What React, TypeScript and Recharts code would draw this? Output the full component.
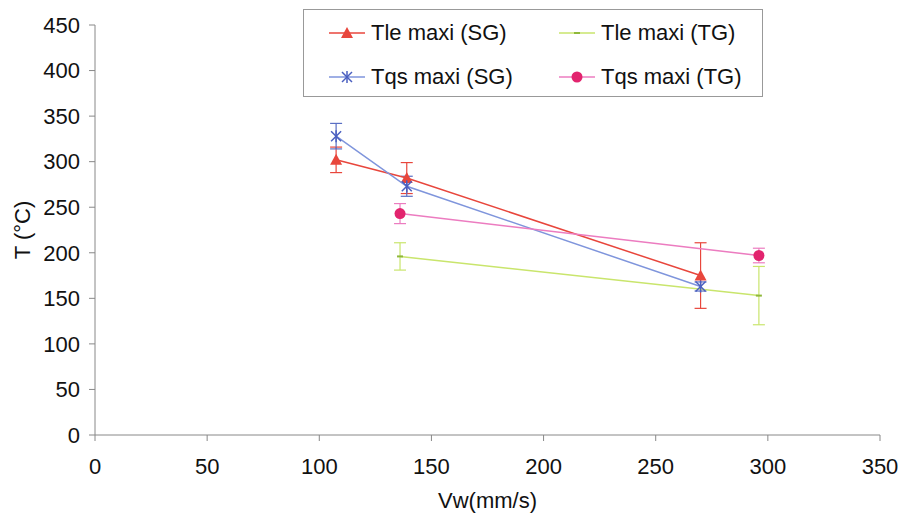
import React from "react";
import { ScatterChart, Scatter, XAxis, YAxis, ErrorBar } from "recharts";

// values
const vwSG = [107.5, 139, 270];
const tleSG = [302, 282, 175];
const tleSGErr = [14, 17, 36];
const tqsSG = [328, 273, 163];
const tqsSGErr = [14, 11, 5];

const vwTG = [136, 296];
const tleTG = [196, 153];
const tleTGErr = [15, 32];
const tqsTG = [243, 197];
const tqsTGErr = [11, 8];

const xTicks = [0, 50, 100, 150, 200, 250, 300, 350];
const yTicks = [0, 50, 100, 150, 200, 250, 300, 350, 400, 450];

const rows = (xs: number[], ys: number[], es: number[]) => xs.map((x, i) => ({ x, y: ys[i], err: es[i] }));

const RED = "#e8463c";
const GREEN = "#c9e56c";
const BLUE = "#7f95dc";
const PINK = "#ec7cc0";
const PINK_DOT = "#e2246e";
const FONT = "'Liberation Sans', Arial, sans-serif";

const Triangle = (p: any) => (
  <polygon points={`${p.cx},${p.cy - 6} ${p.cx + 6},${p.cy + 5} ${p.cx - 6},${p.cy + 5}`} fill={RED} />
);
const Star = (p: any) => (
  <g stroke="#4a5fc0" strokeWidth={1.5}>
    <line x1={p.cx - 5} y1={p.cy - 5} x2={p.cx + 5} y2={p.cy + 5} />
    <line x1={p.cx - 5} y1={p.cy + 5} x2={p.cx + 5} y2={p.cy - 5} />
    <line x1={p.cx} y1={p.cy - 6} x2={p.cx} y2={p.cy + 6} />
  </g>
);
const Dash = (p: any) => <line x1={p.cx - 3} y1={p.cy} x2={p.cx + 3} y2={p.cy} stroke="#8fb83a" strokeWidth={2} />;
const Dot = (p: any) => <circle cx={p.cx} cy={p.cy} r={5.5} fill={PINK_DOT} />;

const legendItems = [
  { name: "Tle maxi (SG)", color: RED, Shape: Triangle },
  { name: "Tle maxi (TG)", color: GREEN, Shape: Dash },
  { name: "Tqs maxi (SG)", color: BLUE, Shape: Star },
  { name: "Tqs maxi (TG)", color: PINK, Shape: Dot },
];

const LegendBox = () => (
  <div
    style={{
      position: "absolute",
      left: 303,
      top: 9,
      width: 460,
      height: 88,
      border: "1.5px solid #999",
      boxSizing: "border-box",
      background: "#fff",
      fontFamily: FONT,
      fontSize: 22,
      color: "#111",
    }}
  >
    {legendItems.map((it, i) => (
      <div
        key={it.name}
        style={{
          position: "absolute",
          left: i % 2 === 0 ? 24 : 254,
          top: (i < 2 ? 23 : 67) - 14,
          height: 28,
          display: "flex",
          alignItems: "center",
          whiteSpace: "nowrap",
        }}
      >
        <svg width={38} height={16} style={{ marginRight: 5 }}>
          <line x1={1} y1={8} x2={37} y2={8} stroke={it.color} strokeWidth={1.5} />
          <it.Shape cx={19} cy={8} />
        </svg>
        <span>{it.name}</span>
      </div>
    ))}
  </div>
);

export default function App() {
  return (
    <div style={{ position: "absolute", left: 0, top: 0, width: 900, height: 515, background: "#fff" }}>
      <ScatterChart width={900} height={515} margin={{ top: 25, right: 20, left: 0, bottom: 0 }}>
        <XAxis
          type="number"
          dataKey="x"
          domain={[0, 350]}
          ticks={xTicks}
          height={80}
          axisLine={{ stroke: "#888" }}
          tickLine={{ stroke: "#888" }}
          tickSize={6}
          tickMargin={17}
          tick={{ fill: "#111", fontSize: 22, fontFamily: FONT }}
          label={{
            value: "Vw(mm/s)",
            position: "insideBottom",
            offset: 7,
            fill: "#111",
            fontSize: 22,
            fontFamily: FONT,
          }}
        />
        <YAxis
          type="number"
          dataKey="y"
          domain={[0, 450]}
          ticks={yTicks}
          width={95}
          axisLine={{ stroke: "#888" }}
          tickLine={{ stroke: "#888" }}
          tickSize={6}
          tickMargin={9}
          tick={{ fill: "#111", fontSize: 22, fontFamily: FONT }}
          label={{
            value: "T (°C)",
            angle: -90,
            position: "insideLeft",
            offset: 22,
            fill: "#111",
            fontSize: 22,
            fontFamily: FONT,
            style: { textAnchor: "middle" },
          }}
        />
        <Scatter
          name="Tle maxi (SG)"
          data={rows(vwSG, tleSG, tleSGErr)}
          line={{ stroke: RED, strokeWidth: 1.5 }}
          shape={Triangle}
          isAnimationActive={false}
        >
          <ErrorBar dataKey="err" direction="y" width={6} stroke={RED} strokeWidth={1.2} />
        </Scatter>
        <Scatter
          name="Tle maxi (TG)"
          data={rows(vwTG, tleTG, tleTGErr)}
          line={{ stroke: GREEN, strokeWidth: 1.5 }}
          shape={Dash}
          isAnimationActive={false}
        >
          <ErrorBar dataKey="err" direction="y" width={6} stroke={GREEN} strokeWidth={1.2} />
        </Scatter>
        <Scatter
          name="Tqs maxi (SG)"
          data={rows(vwSG, tqsSG, tqsSGErr)}
          line={{ stroke: BLUE, strokeWidth: 1.5 }}
          shape={Star}
          isAnimationActive={false}
        >
          <ErrorBar dataKey="err" direction="y" width={6} stroke="#5a6fc4" strokeWidth={1.2} />
        </Scatter>
        <Scatter
          name="Tqs maxi (TG)"
          data={rows(vwTG, tqsTG, tqsTGErr)}
          line={{ stroke: PINK, strokeWidth: 1.5 }}
          shape={Dot}
          isAnimationActive={false}
        >
          <ErrorBar dataKey="err" direction="y" width={6} stroke={PINK} strokeWidth={1.2} />
        </Scatter>
      </ScatterChart>
      <LegendBox />
    </div>
  );
}
